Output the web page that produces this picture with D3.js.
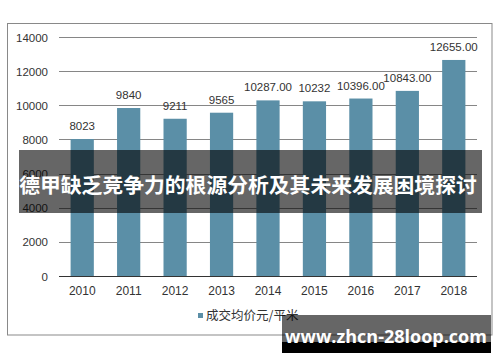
<!DOCTYPE html>
<html><head><meta charset="utf-8">
<script src="https://cdn.jsdelivr.net/npm/d3@7"></script>
<style>body{margin:0;background:#fff}svg{display:block}</style>
</head><body>
<script>
const years = ["2010","2011","2012","2013","2014","2015","2016","2017","2018"];
const values = [8023, 9840, 9211, 9565, 10287, 10232, 10396, 10843, 12655];
const labels = ["8023","9840","9211","9565","10287.00","10232","10396.00","10843.00","12655.00"];
const yTicks = [0,2000,4000,6000,8000,10000,12000,14000];
const seriesName = "成交均价元/平米";
const title = "德甲缺乏竞争力的根源分析及其未来发展困境探讨";
const watermark = "www.zhcn-28loop.com";

const W=500,H=362;
const svg=d3.select("body").append("svg").attr("width",W).attr("height",H);
const font="'Liberation Sans', Arial, sans-serif";
const cjk="'Noto Sans CJK SC', sans-serif";

svg.append("rect").attr("x",7.5).attr("y",23.5).attr("width",484.5).attr("height",311.5)
  .attr("fill","none").attr("stroke","#898989").attr("stroke-width",1);

const x=d3.scaleBand().domain(years).range([59,477]).paddingInner(0.5).paddingOuter(0.25);
const y=d3.scaleLinear().domain([0,14000]).range([276,37]);

const g=svg.append("g");
g.selectAll("line.grid").data(yTicks.filter(d=>d>0)).join("line")
  .attr("x1",59).attr("x2",477).attr("y1",d=>Math.round(y(d))+0.5).attr("y2",d=>Math.round(y(d))+0.5)
  .attr("stroke","#868686");

const yAxis=d3.axisLeft(y).tickValues(yTicks).tickSize(0).tickPadding(0).tickFormat(d3.format("d"));
const ya=svg.append("g").attr("transform","translate(48,0)").call(yAxis);
ya.select(".domain").remove();
ya.selectAll("text").attr("font-family",font).attr("font-size",11.5).attr("fill","#333").attr("dy","0.35em");

g.selectAll("rect.bar").data(values).join("rect")
  .attr("x",(d,i)=>x(years[i])).attr("width",x.bandwidth())
  .attr("y",d=>y(d)).attr("height",d=>y(0)-y(d)).attr("fill","#5b8fa7");

svg.append("line").attr("x1",59).attr("x2",477).attr("y1",276.5).attr("y2",276.5).attr("stroke","#333");

const xAxis=d3.axisBottom(x).tickSize(0).tickPadding(0);
const xa=svg.append("g").attr("transform","translate(0,291)").call(xAxis);
xa.select(".domain").remove();
xa.selectAll("text").attr("font-family",font).attr("font-size",12).attr("fill","#333").attr("dy","0.35em");

g.selectAll("text.lbl").data(values).join("text")
  .attr("x",(d,i)=>x(years[i])+x.bandwidth()/2).attr("y",d=>y(d)-9)
  .attr("text-anchor","middle").attr("font-family",font).attr("font-size",11.5).attr("fill","#333")
  .text((d,i)=>labels[i]);

svg.append("rect").attr("x",198).attr("y",313).attr("width",5).attr("height",5).attr("fill","#5b8fa7");
svg.append("text").attr("x",206).attr("y",316).attr("dy","0.35em").attr("font-family",cjk)
  .attr("font-size",12.5).attr("fill","#333").text(seriesName);

svg.append("rect").attr("x",19).attr("y",150).attr("width",463).attr("height",63).attr("fill","rgba(0,0,0,0.6)");
svg.append("text").attr("x",248).attr("y",186).attr("dy","0.35em").attr("text-anchor","middle")
  .attr("font-family",cjk).attr("font-weight","bold").attr("font-size",20.8).attr("fill","#fff").text(title);

svg.append("rect").attr("x",282).attr("y",315).attr("width",209).attr("height",38).attr("fill","rgba(0,0,0,0.6)");
svg.append("rect").attr("x",282).attr("y",342).attr("width",209).attr("height",11).attr("fill","#000");
svg.append("text").attr("x",386).attr("y",343).attr("text-anchor","middle")
  .attr("font-family","'Open Sans', sans-serif").attr("font-weight","bold").attr("font-size",18).attr("fill","#fff").text(watermark);
</script>
</body></html>
